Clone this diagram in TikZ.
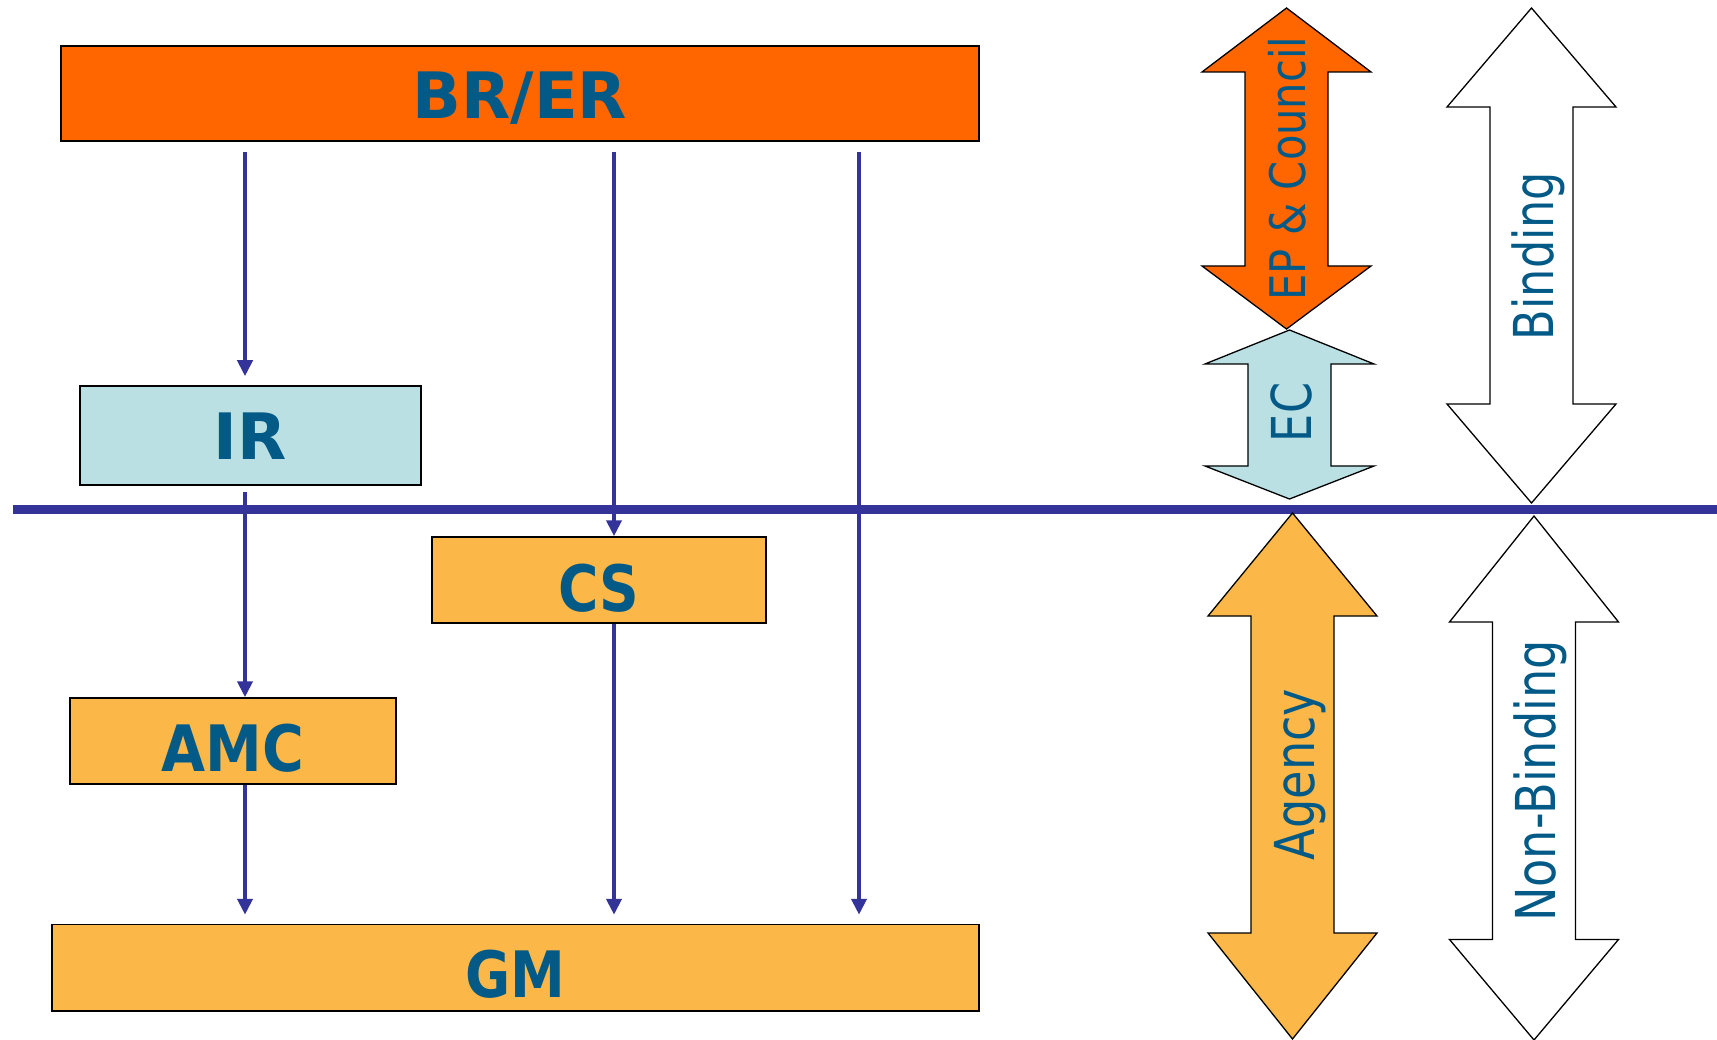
\documentclass[tikz,border=0pt]{standalone}
\usepackage{fontspec}
\setmainfont{DejaVu Sans}
\usetikzlibrary{arrows.meta}
\definecolor{brorange}{HTML}{FF6600}
\definecolor{lorange}{HTML}{FBB848}
\definecolor{lblue}{HTML}{BAE0E3}
\definecolor{navy}{HTML}{333399}
\definecolor{tblue}{HTML}{045A86}
\newcommand\bigdarrow[6]{% cx, ytop, ybase1, ybase2, ybot, fill
  \filldraw[fill=#6, draw=black, line width=1.3pt, line join=miter]
    (#1,#2) -- (#1+84.5,#3) -- (#1+41.5,#3) -- (#1+41.5,#4) -- (#1+84.5,#4)
    -- (#1,#5) -- (#1-84.5,#4) -- (#1-41.5,#4) -- (#1-41.5,#3) -- (#1-84.5,#3) -- cycle;}
\begin{document}
\begin{tikzpicture}[x=1pt,y=-1pt,
  box/.style={draw=black, line width=1.5pt, text=tblue,
    font=\fontsize{64}{70}\selectfont\bfseries, text depth=0pt,
    inner sep=0pt, anchor=center},
  conn/.style={draw=navy, line width=4pt, -{Triangle[length=16pt,width=15pt]}},
  vlab/.style={text=tblue, rotate=90, anchor=base, inner sep=0pt}]
\useasboundingbox (0,0) rectangle (1717,1040);
% boxes
\node[box, fill=brorange, minimum width=918pt, minimum height=95pt, text height=50.6pt] (br) at (520,93.5) {BR/ER};
\node[box, fill=lblue, minimum width=341pt, minimum height=99pt, text height=48.4pt] (ir) at (250.5,435.5) {IR};
\node[box, fill=lorange, minimum width=334pt, minimum height=86pt, text height=62pt] (cs) at (599,580) {\scalebox{0.86}[1]{CS}};
\node[box, fill=lorange, minimum width=326pt, minimum height=86pt, text height=60pt] (amc) at (233,741) {\scalebox{0.89}[1]{AMC}};
\node[box, fill=lorange, minimum width=927pt, minimum height=86.5pt, text height=59.4pt] (gm) at (515.5,967.75) {\scalebox{0.86}[1]{GM}};
% columns
\coordinate (c1) at (245,0);
\coordinate (c2) at (614,0);
\coordinate (c3) at (859,0);
% divider
\coordinate (hl) at (13,509.5);
\coordinate (hr) at (1717,509.5);
\draw[navy, line width=9pt] (hl) -- (hr);
% connectors
\draw[conn, shorten <=10pt, shorten >=9pt] (br.south -| c1) -- (ir.north -| c1);
\draw[conn, shorten <=6pt] (ir.south -| c1) -- (amc.north -| c1);
\draw[conn, shorten <=10pt] (br.south -| c2) -- (cs.north -| c2);
\draw[conn, shorten <=10pt, shorten >=9pt] (br.south -| c3) -- (gm.north -| c3);
\draw[conn, shorten >=9pt] (amc.south -| c1) -- (gm.north -| c1);
\draw[conn, shorten >=9pt] (cs.south -| c2) -- (gm.north -| c2);
% big double arrows
\bigdarrow{1286.5}{8}{72}{266}{329}{brorange}
\bigdarrow{1289.5}{330}{364}{466}{499}{lblue}
\bigdarrow{1531.5}{8}{107}{404}{503}{white}
\bigdarrow{1292.5}{513}{616}{933}{1039}{lorange}
\bigdarrow{1534}{516}{622}{939.5}{1040}{white}
% labels
\node[vlab, font=\fontsize{49}{55}\selectfont] (lep) at (1305,168.5) {\scalebox{0.85}[1]{EP \& Council}};
\node[vlab, font=\fontsize{55}{60}\selectfont] (lec) at (1311,412.5) {\scalebox{0.81}[1]{EC}};
\node[vlab, font=\fontsize{55}{60}\selectfont] (lbind) at (1553,256) {\scalebox{0.81}[1]{Binding}};
\node[vlab, font=\fontsize{55}{60}\selectfont] (lag) at (1314.5,774.5) {\scalebox{0.84}[1]{Agency}};
\node[vlab, font=\fontsize{55}{60}\selectfont] (lnb) at (1555,781) {\scalebox{0.84}[1]{Non-Binding}};
\end{tikzpicture}
\end{document}
